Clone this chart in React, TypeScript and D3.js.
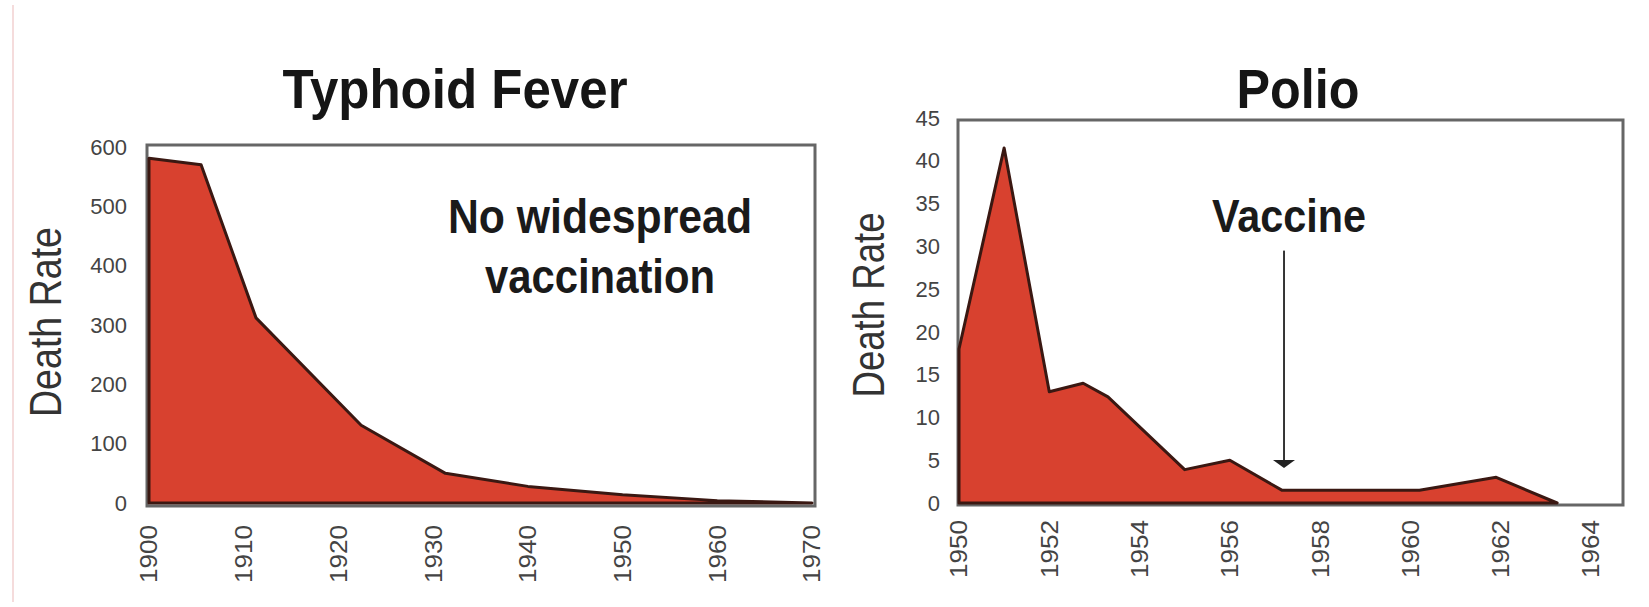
import * as d3 from "d3";

// Typhoid Fever panel
const typhoidYears = [1900, 1905.5, 1911.3, 1922.4, 1931.3, 1940, 1950, 1960, 1970];
const typhoidRates = [581, 570, 312, 131, 50, 28, 14, 4, 0];
const typhoidYTicks = [0, 100, 200, 300, 400, 500, 600];
const typhoidXTicks = [1900, 1910, 1920, 1930, 1940, 1950, 1960, 1970];

// Polio panel
const polioYears = [1950, 1951, 1952, 1952.75, 1953.3, 1955, 1956, 1957.15, 1960.2, 1961.9, 1963.25];
const polioRates = [18, 41.5, 13, 14, 12.4, 3.9, 5, 1.5, 1.5, 3, 0];
const polioYTicks = [0, 5, 10, 15, 20, 25, 30, 35, 40, 45];
const polioXTicks = [1950, 1952, 1954, 1956, 1958, 1960, 1962, 1964];

const vaccineYear = 1957.2;
const FONT = "'Liberation Sans', Arial, Helvetica, sans-serif";
const FILL = "#d8412f";
const EDGE = "#3a1812";
const FRAME = "#666";

type Pt = { year: number; rate: number };

function Panel({
  title, years, rates, xTicks, yTicks, xDomain, xRange, yDomain, yRange,
  frame, titleX, titleLen, yLabelX, yTitleX, yTitleY, yTitleLen, xLabelTop,
  children,
}: any) {
  const x = d3.scaleLinear().domain(xDomain).range(xRange);
  const y = d3.scaleLinear().domain(yDomain).range(yRange);
  const pts: Pt[] = years.map((yr: number, i: number) => ({ year: yr, rate: rates[i] }));
  const area = d3
    .area<Pt>()
    .x((d) => x(d.year))
    .y0(y(0))
    .y1((d) => y(d.rate))
    .curve(d3.curveLinear);

  return (
    <g fontFamily={FONT}>
      <rect x={frame[0]} y={frame[1]} width={frame[2] - frame[0]} height={frame[3] - frame[1]}
        fill="#fff" stroke={FRAME} strokeWidth={3} />
      <path d={area(pts) || ""} fill={FILL} stroke={EDGE} strokeWidth={3} strokeLinejoin="round" />

      <text x={titleX} y={108} textAnchor="middle" fontSize={56} fontWeight={700} fill="#151515"
        textLength={titleLen} lengthAdjust="spacingAndGlyphs">{title}</text>

      {yTicks.map((t: number) => (
        <text key={t} x={yLabelX} y={y(t)} dy="0.35em" textAnchor="end" fontSize={22} fill="#444">{t}</text>
      ))}

      {xTicks.map((t: number) => (
        <text key={t} transform={`translate(${x(t)},${xLabelTop}) rotate(-90)`} dy="0.35em"
          textAnchor="end" fontSize={24} fill="#444" textLength={58} lengthAdjust="spacingAndGlyphs">{t}</text>
      ))}

      <text transform={`translate(${yTitleX},${yTitleY}) rotate(-90)`} textAnchor="middle" fontSize={44}
        fill="#333" textLength={yTitleLen} lengthAdjust="spacingAndGlyphs">Death Rate</text>

      {children && children(x, y)}
    </g>
  );
}

export default function App() {
  return (
    <svg width={1649} height={607} style={{ position: "absolute", left: 0, top: 0, background: "#fff" }}>
      <rect width={1649} height={607} fill="#fff" />
      <line x1={13} x2={13} y1={5} y2={602} stroke="#f5dcdc" strokeWidth={2} />

      <Panel
        title="Typhoid Fever" years={typhoidYears} rates={typhoidRates}
        xTicks={typhoidXTicks} yTicks={typhoidYTicks}
        xDomain={[1900, 1970]} xRange={[149, 812]} yDomain={[0, 600]} yRange={[503, 147]}
        frame={[147, 145, 815, 506]} titleX={455} titleLen={345}
        yLabelX={127} yTitleX={61} yTitleY={322} yTitleLen={190} xLabelTop={525}
      >
        {() => (
          <g fontWeight={700} fontSize={48} fill="#1a1a1a" textAnchor="middle">
            <text x={600} y={233} textLength={304} lengthAdjust="spacingAndGlyphs">No widespread</text>
            <text x={600} y={293} textLength={230} lengthAdjust="spacingAndGlyphs">vaccination</text>
          </g>
        )}
      </Panel>

      <Panel
        title="Polio" years={polioYears} rates={polioRates}
        xTicks={polioXTicks} yTicks={polioYTicks}
        xDomain={[1950, 1964]} xRange={[959, 1591]} yDomain={[0, 45]} yRange={[503, 118]}
        frame={[958, 120, 1623, 505]} titleX={1298} titleLen={123}
        yLabelX={940} yTitleX={884} yTitleY={305} yTitleLen={185} xLabelTop={520}
      >
        {(x: any, y: any) => {
          const ax = x(vaccineYear);
          const tip = y(4.1);
          return (
            <g>
              <text x={ax + 5} y={232} textAnchor="middle" fontWeight={700} fontSize={47} fill="#1a1a1a"
                textLength={154} lengthAdjust="spacingAndGlyphs">Vaccine</text>
              <line x1={ax} x2={ax} y1={y(29.5)} y2={tip - 6} stroke="#333" strokeWidth={2} />
              <path d={`M${ax - 11},${tip - 8}L${ax + 11},${tip - 8}L${ax},${tip}Z`} fill="#222" />
            </g>
          );
        }}
      </Panel>
    </svg>
  );
}
